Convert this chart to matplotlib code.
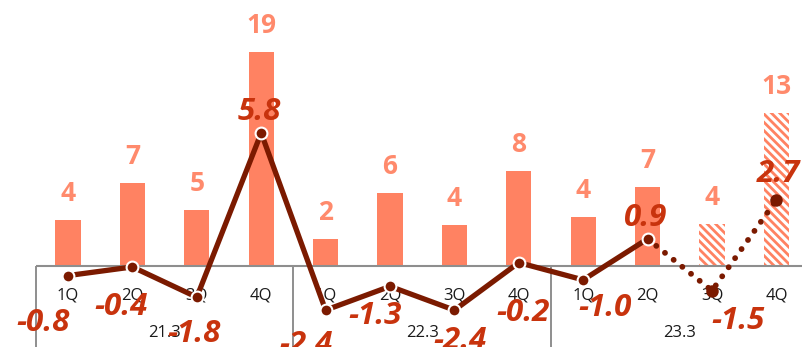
import matplotlib
matplotlib.use('Agg')
import matplotlib.pyplot as plt
import matplotlib.transforms as mtransforms
from matplotlib import font_manager as fm
import numpy as np

# ---- data ----
quarters = ['1Q', '2Q', '3Q', '4Q', '1Q', '2Q', '3Q', '4Q', '1Q', '2Q', '3Q', '4Q']
groups = ['21.3', '22.3', '23.3']
bar_values = [4.0, 7.3, 4.9, 18.8, 2.4, 6.4, 3.6, 8.3, 4.3, 6.9, 3.7, 13.4]
line_values = [-0.8, -0.4, -1.8, 5.8, -2.4, -1.3, -2.4, -0.2, -1.0, 0.9, -1.5, 2.7]
n_actual = 10  # last two are forecasts (hatched / dotted)


def pick_family(prefs, style):
    for fam in prefs:
        for f in fm.fontManager.ttflist:
            w = f.weight
            if isinstance(w, str):
                w = fm.weight_dict.get(w, 400)
            if f.name == fam and f.style == style and w >= 700:
                return fam
    return 'DejaVu Sans'


prefs = ['Open Sans', 'Noto Sans', 'Lato', 'Roboto', 'Liberation Sans', 'DejaVu Sans']
BOLD_FAM = pick_family(prefs, 'normal')
BOLDIT_FAM = pick_family(prefs, 'italic')

# ---- style ----
plt.rcParams['font.family'] = ['Open Sans', 'Noto Sans', 'DejaVu Sans']
plt.rcParams['hatch.linewidth'] = 2.0
BAR = '#FF8262'
BAR_LABEL = '#FF8A6C'
LINE = '#7B1A00'
LINE_LABEL = '#C8330D'
GRID = '#8E8E8E'

W, H = 803, 347
fig = plt.figure(figsize=(W / 100, H / 100), dpi=100)
ax = fig.add_axes([0, 0, 1, 1])
ax2 = ax.twinx()
for a in (ax, ax2):
    a.set_axis_off()

step, x0 = 64.4, 68.0
ax.set_xlim(-x0 / step, (W - x0) / step)
bar_px = 11.4
ax.set_ylim(-(H - 266) / bar_px, 266 / bar_px)
line_px = 21.6
ax2.set_ylim(-(H - 258.3) / line_px, 258.3 / line_px)

x = np.arange(len(bar_values))

# bars
ax.bar(x[:n_actual], bar_values[:n_actual], width=0.39, color=BAR, zorder=2)
ax.bar(x[n_actual:], bar_values[n_actual:], width=0.39, color='white',
       edgecolor=BAR, hatch='\\\\\\\\', linewidth=0, zorder=2)

# axis lines
ax.plot([-0.5, x[-1] + 1], [0, 0], color=GRID, lw=1.5, zorder=3, clip_on=False,
        solid_capstyle='butt')
ybot = ax.get_ylim()[0]
for sx in (-0.5, 3.5, 7.5):
    ax.plot([sx, sx], [0, ybot], color=GRID, lw=1.4, zorder=3, clip_on=False,
            solid_capstyle='butt')

# bar labels
for xi, v in zip(x, bar_values):
    ax.annotate(f'{v:.0f}', (xi, v), xytext=(0, 19), textcoords='offset pixels',
                ha='center', va='baseline', fontsize=19, fontweight='bold',
                family=[BOLD_FAM, 'DejaVu Sans'], color=BAR_LABEL, zorder=6)

# line
ax2.plot(x[:n_actual], line_values[:n_actual], color=LINE, lw=3.8,
         solid_capstyle='round', solid_joinstyle='round', zorder=4)
ax2.plot(x[n_actual - 1:], line_values[n_actual - 1:], color=LINE, lw=4.2,
         linestyle=(0, (0.01, 1.9)), dash_capstyle='round', zorder=4)
ax2.plot(x[:n_actual], line_values[:n_actual], 'o', ms=8.5, mfc=LINE,
         mec='white', mew=1.5, zorder=5, clip_on=False)
ax2.plot(x[n_actual:], line_values[n_actual:], 'o', ms=9, mfc=LINE,
         mec=LINE, mew=0, zorder=5, clip_on=False)

# line labels (pixel offsets of label centres, + = downward)
label_offsets = [(-25, 44), (-11, 37), (-3, 33), (-2, -25), (-20, 31), (-15, 26),
                 (6, 27), (4, 47), (22, 25), (-2, -24), (26, 27), (2, -29)]
for xi, v, (dx, dy) in zip(x, line_values, label_offsets):
    ax2.annotate(f'{v:.1f}', (xi, v), xytext=(dx, -(dy + 11.5)),
                 textcoords='offset pixels', ha='center', va='baseline',
                 fontsize=22.5, fontweight='bold', fontstyle='italic',
                 family=[BOLDIT_FAM, 'DejaVu Sans'],
                 color=LINE_LABEL, zorder=7, annotation_clip=False)

# category labels
tr = mtransforms.blended_transform_factory(ax.transData, ax.transAxes)
for xi, q in zip(x, quarters):
    ax.text(xi, 1 - 295 / H, q, transform=tr, ha='center', va='center',
            fontsize=12, color='#1a1a1a', zorder=3)
for gi, g in enumerate(groups):
    ax.text(gi * 4 + 1.5, 1 - 333 / H, g, transform=tr, ha='center', va='center',
            fontsize=12, color='#1a1a1a', zorder=3)

fig.savefig('out.png', dpi=100, facecolor='white')
